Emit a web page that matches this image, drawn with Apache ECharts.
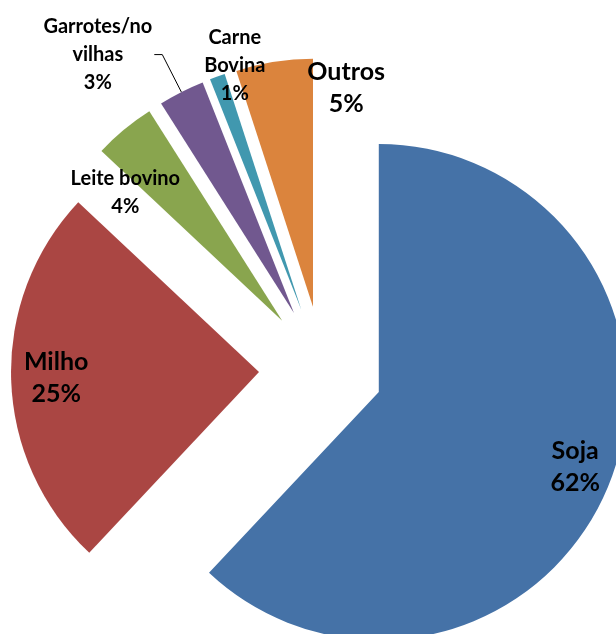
<!DOCTYPE html>
<html>
<head>
<meta charset="utf-8">
<script src="https://cdn.jsdelivr.net/npm/echarts@6/dist/echarts.min.js"></script>
<style>
html, body { margin: 0; padding: 0; background: #fff; }
#chart { width: 616px; height: 634px; }
</style>
</head>
<body>
<div id="chart"></div>
<script>
// data
var categories = ['Soja', 'Milho', 'Leite bovino', 'Garrotes/no\nvilhas', 'Carne\nBovina', 'Outros'];
var shares = [62, 25, 4, 3, 1, 5];

// style
var colors = ['#4572A7', '#AA4643', '#89A54E', '#71588F', '#4198AF', '#DB843D'];
var explode = [60, 64, 64, 64, 64, 64];
// label spot: distance from slice tip (r) and sideways shift (t), or outside with leader line
var labelSpot = [
    { r: 210, t: -3, size: 25 },
    { r: 203, t: 0, size: 25 },
    { r: 199, t: -39, size: 20 },
    { outside: true, size: 20 },
    { r: 252, t: 20, size: 20 },
    { r: 211, t: 67, size: 25 }
];
var baseCx = 323, baseCy = 370, radius = 248;
var FONT = 'Lato';

var chart = echarts.init(document.getElementById('chart'));
var total = 0;
for (var k = 0; k < shares.length; ++k) total += shares[k];

var series = [];
var acc = 0;
for (var i = 0; i < shares.length; ++i) {
    var a0 = acc / total * Math.PI * 2;
    acc += shares[i];
    var a1 = acc / total * Math.PI * 2;
    var mid = (a0 + a1) / 2;
    var dx = Math.sin(mid), dy = -Math.cos(mid);   // outward
    var tx = Math.cos(mid), ty = Math.sin(mid);    // clockwise
    var spot = labelSpot[i];
    var lh = Math.round(spot.size * 1.3);

    var label;
    if (spot.outside) {
        label = {
            position: 'outside',
            distanceToLabelLine: 2,
            formatter: function (p) {
                var lines = (p.name + '\n' + p.value + '%').split('\n');
                return lines.map(function (s) { return '{c|' + s + '}'; }).join('\n');
            },
            rich: {
                c: { align: 'center', fontFamily: FONT, fontWeight: 'bold', fontSize: spot.size, lineHeight: 28, color: '#000' }
            }
        };
    } else {
        var push = spot.r - radius / 2 - 3;
        label = {
            position: 'inside',
            offset: [push * dx + spot.t * tx, push * dy + spot.t * ty],
            formatter: function (p) { return p.name + '\n' + p.value + '%'; },
            fontFamily: FONT,
            fontWeight: 'bold',
            fontSize: spot.size,
            lineHeight: spot.size >= 24 ? 32 : 28,
            color: '#000'
        };
    }

    var data = [];
    for (var j = 0; j < shares.length; ++j) {
        data.push({
            name: categories[j],
            value: shares[j],
            itemStyle: { color: j == i ? colors[i] : 'rgba(0,0,0,0)' },
            label: { show: j == i },
            labelLine: { show: j == i && !!spot.outside }
        });
    }

    series.push({
        type: 'pie',
        center: [baseCx + explode[i] * dx, baseCy + explode[i] * dy],
        radius: [0, radius],
        startAngle: 90,
        clockwise: true,
        avoidLabelOverlap: false,
        silent: true,
        animation: false,
        emphasis: { disabled: true },
        label: label,
        labelLine: {
            length: 42,
            length2: 8,
            smooth: false,
            lineStyle: { color: '#000', width: 1 }
        },
        data: data
    });
}

chart.setOption({
    backgroundColor: '#fff',
    animation: false,
    series: series
});
</script>
</body>
</html>
